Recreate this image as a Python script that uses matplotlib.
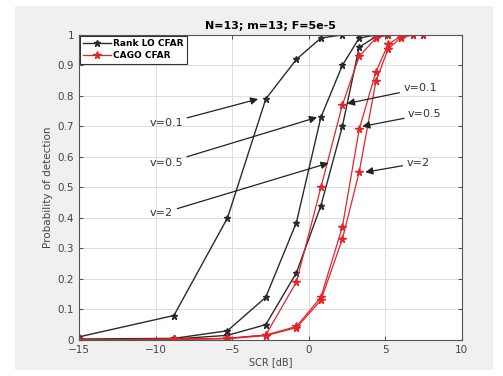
import matplotlib
matplotlib.use("Agg")
import matplotlib.pyplot as plt
from matplotlib.patches import Rectangle

# SCR points [dB]
scr_rank = [-15, -8.8, -5.3, -2.8, -0.8, 0.8, 2.2, 3.3, 4.4, 5.2]
scr_cago = [-15, -8.8, -5.3, -2.8, -0.8, 0.8, 2.2, 3.3, 4.4, 5.2, 6.0, 6.8, 7.5]

# Rank LO CFAR, v = 0.1 / 0.5 / 2
rank_v01 = [0.01, 0.08, 0.40, 0.79, 0.92, 0.99, 1.0, 1.0, 1.0, 1.0]
rank_v05 = [0.003, 0.005, 0.03, 0.14, 0.385, 0.73, 0.90, 0.99, 1.0, 1.0]
rank_v2 = [0.0, 0.003, 0.015, 0.05, 0.22, 0.44, 0.70, 0.96, 0.995, 1.0]

# CAGO CFAR, v = 0.1 / 0.5 / 2
cago_v01 = [0.0, 0.002, 0.005, 0.016, 0.19, 0.50, 0.77, 0.93, 0.99, 1.0, 1.0, 1.0, 1.0]
cago_v05 = [0.0, 0.002, 0.005, 0.016, 0.044, 0.14, 0.37, 0.69, 0.88, 0.97, 0.995, 1.0, 1.0]
cago_v2 = [0.0, 0.002, 0.004, 0.014, 0.040, 0.13, 0.33, 0.55, 0.85, 0.955, 0.99, 1.0, 1.0]

# annotations: label, text position, arrow tip
notes = [
    ("v=0.1", (-9.3, 0.71), (-3.3, 0.79)),
    ("v=0.5", (-9.3, 0.58), (0.55, 0.73)),
    ("v=2", (-9.6, 0.415), (1.3, 0.58)),
    ("v=0.1", (6.2, 0.825), (2.5, 0.775)),
    ("v=0.5", (6.5, 0.74), (3.5, 0.70)),
    ("v=2", (6.4, 0.58), (3.7, 0.55)),
]

black = "#2b2b2b"
red = "#e3242b"

fig = plt.figure(figsize=(5.03, 3.76), dpi=100, facecolor="white")
bg = Rectangle((15 / 503, 6 / 376), 478 / 503, 364 / 376,
               transform=fig.transFigure, facecolor="#f0f0f0",
               edgecolor="none", zorder=-10)
fig.add_artist(bg)
ax = fig.add_axes([0.157, 0.096, 0.761, 0.811])
ax.set_zorder(5)
ax.set_facecolor("white")

ax.plot(scr_rank, rank_v01, "-*", color=black, lw=1.0, ms=4.5, label="Rank LO CFAR")
ax.plot(scr_rank, rank_v05, "-*", color=black, lw=1.0, ms=4.5)
ax.plot(scr_rank, rank_v2, "-*", color=black, lw=1.0, ms=4.5)
ax.plot(scr_cago, cago_v01, "-*", color=red, lw=0.9, ms=5.5, label="CAGO CFAR")
ax.plot(scr_cago, cago_v05, "-*", color=red, lw=0.9, ms=5.5)
ax.plot(scr_cago, cago_v2, "-*", color=red, lw=0.9, ms=5.5)

for label, xy_text, xy_tip in notes:
    ax.annotate(label, xy=xy_tip, xytext=xy_text, fontsize=8, color="#333333",
                ha="left" if xy_text[0] > 0 else "center", va="center",
                arrowprops=dict(arrowstyle="-|>", color="#222222", lw=0.9,
                                mutation_scale=11, shrinkA=1, shrinkB=0))

ax.set_xlim(-15, 10)
ax.set_ylim(0, 1)
ax.set_xticks(range(-15, 11, 5))
ax.set_yticks([i / 10 for i in range(11)])
ax.set_yticklabels(["0"] + [f"{i / 10:g}" for i in range(1, 10)] + ["1"])
ax.tick_params(direction="in", top=True, right=True, labelsize=7.5,
               labelcolor="#444444", color="#555555", length=3)
for s in ax.spines.values():
    s.set_color("#555555")
    s.set_linewidth(0.8)
ax.grid(True, color="#dddddd", lw=0.7)
ax.set_axisbelow(True)

ax.set_title("N=13; m=13; F=5e-5", fontsize=8, fontweight="bold", pad=4)
ax.set_xlabel("SCR [dB]", fontsize=7, color="#444444", labelpad=2)
ax.set_ylabel("Probability of detection", fontsize=7.5, color="#444444", labelpad=3)

leg = ax.legend(loc="upper left", handlelength=3.0, handletextpad=0.3,
                borderaxespad=0.1, borderpad=0.4, labelspacing=0.3,
                fancybox=False, framealpha=1, edgecolor="#333333",
                prop={"weight": "bold", "size": 6.5})
leg.get_frame().set_linewidth(0.8)

fig.savefig("out.png", dpi=100, facecolor=fig.get_facecolor())
